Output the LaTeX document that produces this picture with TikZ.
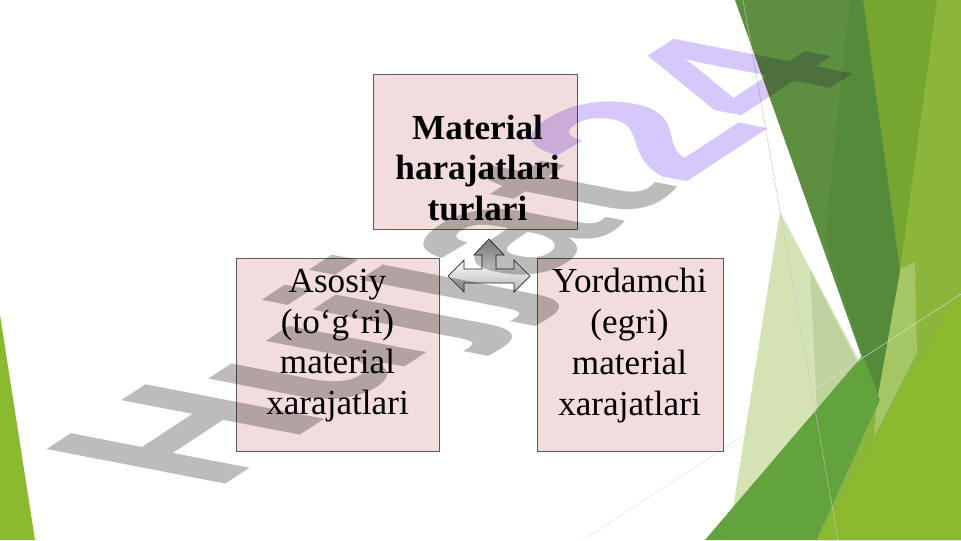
\documentclass[tikz,border=0pt]{standalone}
\usepackage{fontspec}
\setmainfont{Liberation Serif}
\newfontfamily\wmfont{Liberation Sans}
\usetikzlibrary{calc}

\definecolor{boxpink}{RGB}{242,220,221}
\definecolor{boxline}{RGB}{90,90,90}
\definecolor{greenlight}{RGB}{139,181,59}
\definecolor{greenolive}{RGB}{119,166,48}
\definecolor{greenpale}{RGB}{165,198,100}
\definecolor{greenbright}{RGB}{140,186,47}
\definecolor{greenmist}{RGB}{212,226,180}
\definecolor{greenmistb}{RGB}{192,211,158}
\definecolor{greendark}{RGB}{94,142,64}
\definecolor{greendeep}{RGB}{84,138,58}
\definecolor{greenmid}{RGB}{99,163,61}
\definecolor{wmgray}{RGB}{188,188,188}
\definecolor{wmlav}{RGB}{214,200,250}

\tikzset{
  frame/.style={draw=boxline, fill=boxpink, line width=0.6pt, inner sep=0pt},
  boxtext/.style={align=center, inner sep=0pt, font=\fontsize{25}{29}\selectfont},
  bigarrow/.style={draw=gray!30!black, line width=0.5pt, top color=gray!75, bottom color=gray!60, middle color=gray!10},
  watermark/.style={transform shape, anchor=base west, inner sep=0pt,
    font=\wmfont\bfseries\fontsize{104}{104}\selectfont}
}

\begin{document}
\begin{tikzpicture}[x=0.025cm, y=-0.025cm]
  \useasboundingbox (0,0) rectangle (961,540);
  \fill[white] (0,0) rectangle (961,540);

  % green slide decoration
  \fill[greenlight] (863,0) -- (961,0) -- (961,540) -- (817,540) -- (877,400) -- (900,270) -- cycle;
  \fill[greenolive] (863,0) -- (937,0) -- (900,270) -- cycle;
  \fill[greenmist] (780,212) -- (880,400) -- (817,540) -- (728,540) -- cycle;
  \fill[greenmistb] (810,270) -- (877,400) -- (820,470) -- cycle;
  \fill[greenpale] (897,270) -- (915,262) -- (917,353) -- (874,437) -- (877,400) -- cycle;
  \fill[greenbright] (817,540) -- (961,290) -- (961,540) -- cycle;
  \fill[greendark] (735,0) -- (863,0) -- (900,270) -- (877,400) -- cycle;
  \fill[greendeep] (850,0) -- (863,0) -- (900,270) -- (877,400) -- (825,240) -- cycle;
  \fill[greenmid] (705,540) -- (863,355) -- (880,400) -- (817,540) -- cycle;
  \draw[gray!45, line width=0.3pt] (743,0) -- (838,540);
  \draw[gray!25, line width=0.3pt] (583,540) -- (961,294);
  \fill[greenbright] (0,315) -- (35,540) -- (0,540) -- cycle;

  % boxes
  \node[frame, minimum width=5.1cm, minimum height=3.875cm] (topbox) at (475,151.5) {};
  \node[frame, minimum width=5.075cm, minimum height=4.825cm] (leftbox) at (337.5,354.5) {};
  \node[frame, minimum width=4.65cm, minimum height=4.825cm] (rightbox) at (630,354.5) {};

  \node[boxtext, font=\fontsize{25}{29}\selectfont\bfseries] (toptxt) at ($(topbox.center)+(2.5,16.5)$)
    {Material\\harajatlari\\turlari};
  \node[boxtext] (lefttxt) at ($(leftbox.center)+(0,-9)$)
    {Asosiy\\(to‘g‘ri)\\material\\xarajatlari};
  \node[boxtext] (righttxt) at ($(rightbox.center)+(-0.5,-9)$)
    {Yordamchi\\(egri)\\material\\xarajatlari};

  % left-right-up arrow
  \coordinate (arr) at (489,276);
  \path[bigarrow, shift={(arr)}] (-41,0) -- (-25,-16) -- (-25,-7) -- (-7,-7) -- (-7,-21) -- (-15,-21)
    -- (0,-37) -- (15,-21) -- (7,-21) -- (7,-7) -- (25,-7) -- (25,-16) -- (41,0) -- (25,16)
    -- (25,7) -- (-25,7) -- (-25,16) -- cycle;

  % watermark
  \begin{scope}[blend mode=multiply, cm={1.150,0.754,-1.776,0.344,(214,492)}]
    \node[watermark] (wm) at (0,0) {\textcolor{wmgray}{Hujjat}\textcolor{wmlav}{24}};
  \end{scope}
\end{tikzpicture}
\end{document}
